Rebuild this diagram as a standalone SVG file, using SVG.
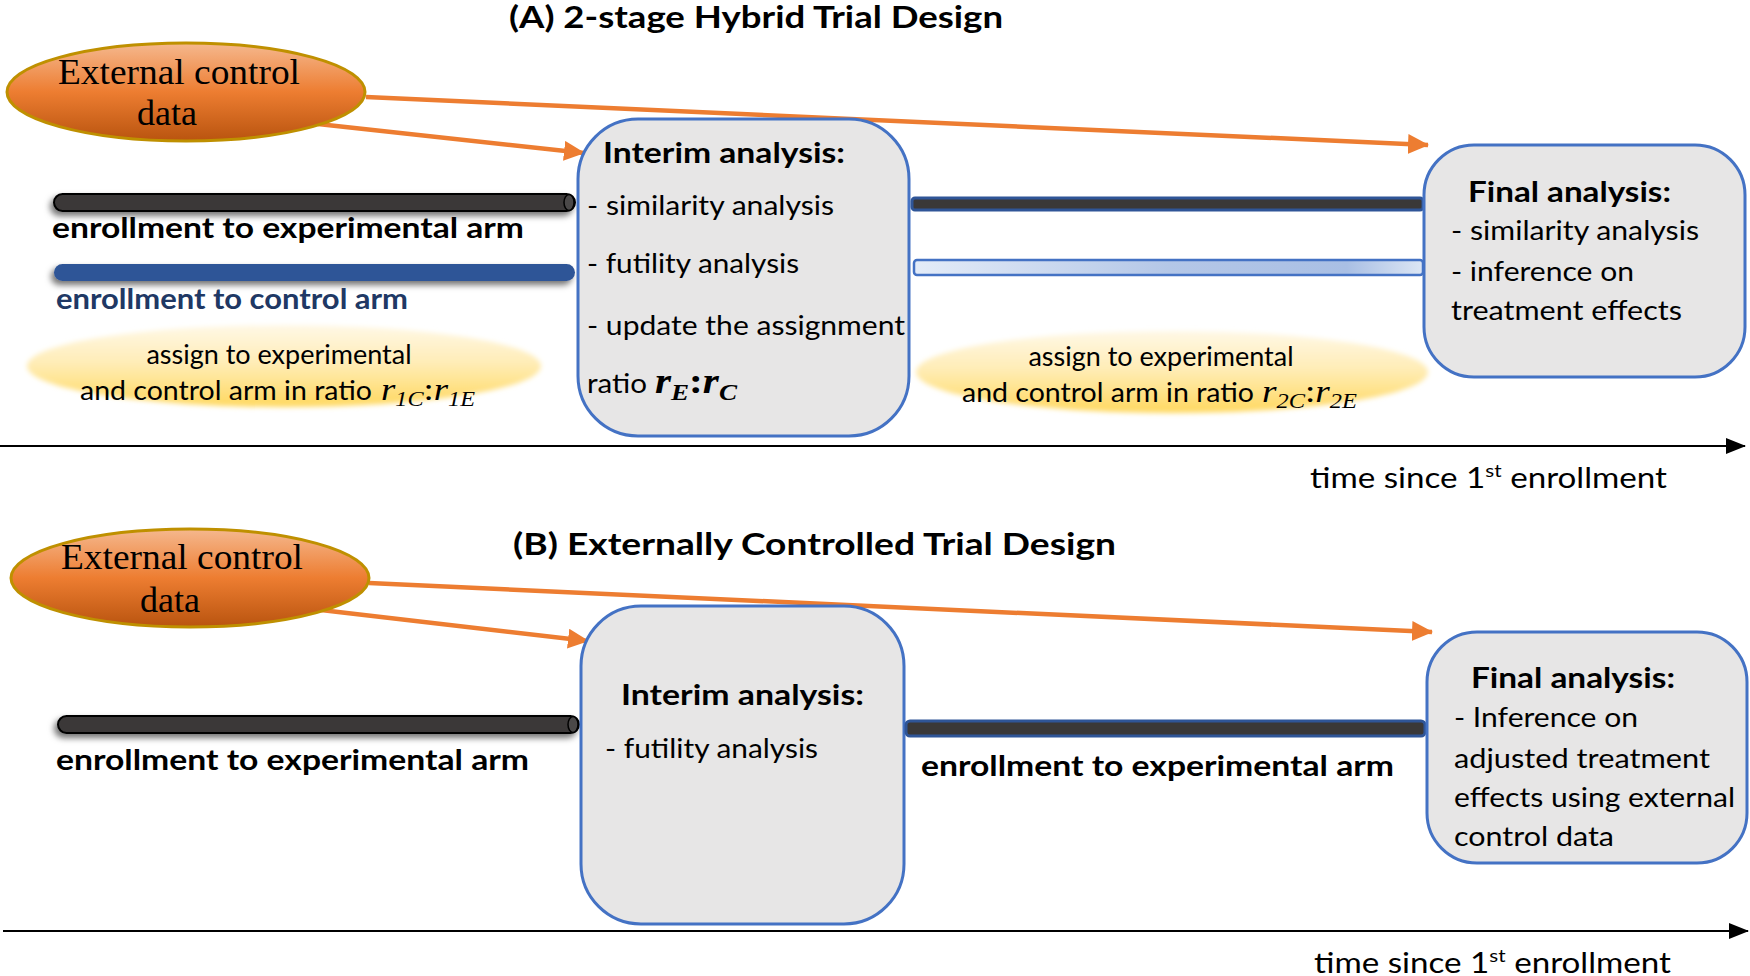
<svg xmlns="http://www.w3.org/2000/svg" width="1750" height="976" viewBox="0 0 1750 976">
<style>
.h{font-family:Lato,"Liberation Sans",sans-serif;font-weight:bold;fill:#000}
.t{font-family:Lato,"Liberation Sans",sans-serif;fill:#000}
.sf{font-family:"Liberation Serif",serif;fill:#000}
.m{font-family:"Liberation Serif",serif;font-style:italic;fill:#000}
.box{fill:#E7E6E6;stroke:#4472C4;stroke-width:3}
.ecd{fill:url(#og);stroke:#BF9000;stroke-width:3}
.yel{fill:url(#yg);filter:url(#soft)}
.arr{stroke:#ED7D31;stroke-width:4.5;fill:none;marker-end:url(#oa)}
.axis{stroke:#000;stroke-width:2;fill:none;marker-end:url(#ba)}
.bk{fill:#3A3838;stroke:#000;stroke-width:2;filter:url(#sh)}
.bl{fill:#2F5597;filter:url(#sh)}
.dk{fill:#3A3838;stroke:#2F5597;stroke-width:3}
.lb{fill:url(#lbg);stroke:#4472C4;stroke-width:2.5}
</style>
<defs>
<linearGradient id="og" x1="0" y1="0" x2="0" y2="1">
<stop offset="0" stop-color="#F5B88E"/><stop offset="0.5" stop-color="#ED7D31"/><stop offset="1" stop-color="#B9540F"/>
</linearGradient>
<linearGradient id="yg" x1="0" y1="0" x2="0" y2="1">
<stop offset="0" stop-color="#FFF8E6"/><stop offset="0.45" stop-color="#FFEDB8"/><stop offset="1" stop-color="#FFD85F"/>
</linearGradient>
<linearGradient id="lbg" x1="0" y1="0" x2="1" y2="0">
<stop offset="0" stop-color="#E4ECF8"/><stop offset="0.5" stop-color="#B4C7E7"/><stop offset="0.85" stop-color="#A9BFE4"/><stop offset="1" stop-color="#DCE6F4"/>
</linearGradient>
<filter id="soft" x="-5%" y="-20%" width="110%" height="140%"><feGaussianBlur stdDeviation="2.5"/></filter>
<filter id="sh" x="-5%" y="-100%" width="110%" height="300%"><feDropShadow dx="-3" dy="4" stdDeviation="3" flood-color="#000" flood-opacity="0.55"/></filter>
<marker id="oa" markerUnits="userSpaceOnUse" markerWidth="24" markerHeight="22" refX="20" refY="10" orient="auto"><path d="M0,0 L21,10 L0,20 Z" fill="#ED7D31"/></marker>
<marker id="ba" markerUnits="userSpaceOnUse" markerWidth="22" markerHeight="18" refX="19" refY="8" orient="auto"><path d="M0,0 L20,8 L0,16 Z" fill="#000"/></marker>
</defs>

<text class="h" x="509" y="28" font-size="30" textLength="494" lengthAdjust="spacingAndGlyphs">(A) 2-stage Hybrid Trial Design</text>
<text class="h" x="513" y="555" font-size="31" textLength="603" lengthAdjust="spacingAndGlyphs">(B) Externally Controlled Trial Design</text>

<g id="connectors">
<path class="arr" d="M366,97 L1428,145"/>
<path class="arr" d="M318,124 L584,153"/>
<path class="arr" d="M369,583 L1432,632"/>
<path class="arr" d="M321,610 L588,641"/>
<path class="axis" d="M0,446 L1745,446"/>
<path class="axis" d="M3,931 L1748,931"/>
</g>

<g id="ecdA">
<ellipse class="ecd" cx="186" cy="92" rx="179" ry="49"/>
<text class="sf" x="58" y="84" font-size="36" textLength="242" lengthAdjust="spacingAndGlyphs">External control</text>
<text class="sf" x="167" y="125" font-size="36" text-anchor="middle">data</text>
</g>

<g id="expArmA1">
<rect class="bk" x="54" y="194" width="521" height="17" rx="8.5"/>
<ellipse cx="569" cy="202.5" rx="5" ry="8" fill="#4a4848" stroke="#000" stroke-width="1.5"/>
<text class="h" x="52" y="238" font-size="29" textLength="472" lengthAdjust="spacingAndGlyphs">enrollment to experimental arm</text>
</g>
<g id="ctlArmA1">
<rect class="bl" x="54" y="264" width="521" height="17" rx="8.5"/>
<text class="h" x="56" y="309" font-size="29" style="fill:#203864" textLength="352" lengthAdjust="spacingAndGlyphs">enrollment to control arm</text>
</g>
<g id="assignA1">
<ellipse class="yel" cx="284" cy="366" rx="257" ry="41"/>
<text class="t" x="279" y="364" font-size="27" text-anchor="middle">assign to experimental</text>
<text class="t" x="80" y="400" font-size="27" textLength="292" lengthAdjust="spacingAndGlyphs">and control arm in ratio</text>
<text class="m" x="381" y="400" font-size="32" textLength="94" lengthAdjust="spacingAndGlyphs">r<tspan font-size="21" dy="6">1C</tspan><tspan dy="-6" font-style="normal">:</tspan>r<tspan font-size="21" dy="6">1E</tspan></text>
</g>

<g id="interimA">
<rect class="box" x="578" y="119" width="331" height="317" rx="60"/>
<text class="h" x="603" y="163" font-size="29" textLength="242" lengthAdjust="spacingAndGlyphs">Interim analysis:</text>
<text class="t" x="587" y="215" font-size="27" textLength="247" lengthAdjust="spacingAndGlyphs">- similarity analysis</text>
<text class="t" x="587" y="273" font-size="27" textLength="212" lengthAdjust="spacingAndGlyphs">- futility analysis</text>
<text class="t" x="587" y="335" font-size="27" textLength="318" lengthAdjust="spacingAndGlyphs">- update the assignment</text>
<text class="t" x="587" y="393" font-size="27" textLength="60" lengthAdjust="spacingAndGlyphs">ratio</text>
<text class="m" x="655" y="393" font-size="35" font-weight="bold" textLength="82" lengthAdjust="spacingAndGlyphs">r<tspan font-size="23" dy="7">E</tspan><tspan dy="-7" font-style="normal">:</tspan>r<tspan font-size="23" dy="7">C</tspan></text>
</g>

<g id="expArmA2">
<rect class="dk" x="912" y="198" width="511" height="12" rx="3"/>
</g>
<g id="ctlArmA2">
<rect class="lb" x="914" y="260" width="509" height="15" rx="3"/>
</g>
<g id="assignA2">
<ellipse class="yel" cx="1172" cy="372" rx="256" ry="41"/>
<text class="t" x="1161" y="366" font-size="27" text-anchor="middle">assign to experimental</text>
<text class="t" x="962" y="402" font-size="27" textLength="292" lengthAdjust="spacingAndGlyphs">and control arm in ratio</text>
<text class="m" x="1262" y="402" font-size="32" textLength="95" lengthAdjust="spacingAndGlyphs">r<tspan font-size="21" dy="6">2C</tspan><tspan dy="-6" font-style="normal">:</tspan>r<tspan font-size="21" dy="6">2E</tspan></text>
</g>

<g id="finalA">
<rect class="box" x="1424" y="145" width="321" height="232" rx="50"/>
<text class="h" x="1468" y="202" font-size="29" textLength="203" lengthAdjust="spacingAndGlyphs">Final analysis:</text>
<text class="t" x="1451" y="240" font-size="27" textLength="248" lengthAdjust="spacingAndGlyphs">- similarity analysis</text>
<text class="t" x="1451" y="281" font-size="27" textLength="183" lengthAdjust="spacingAndGlyphs">- inference on</text>
<text class="t" x="1451" y="320" font-size="27" textLength="231" lengthAdjust="spacingAndGlyphs">treatment effects</text>
</g>

<g id="timeA">
<text class="t" x="1310" y="488" font-size="29" textLength="357" lengthAdjust="spacingAndGlyphs">time since 1<tspan font-size="18" dy="-11">st</tspan><tspan dy="11"> enrollment</tspan></text>
</g>

<g id="ecdB">
<ellipse class="ecd" cx="190" cy="578" rx="179" ry="49"/>
<text class="sf" x="61" y="569" font-size="36" textLength="242" lengthAdjust="spacingAndGlyphs">External control</text>
<text class="sf" x="170" y="612" font-size="36" text-anchor="middle">data</text>
</g>

<g id="expArmB1">
<rect class="bk" x="58" y="716" width="521" height="17" rx="8.5"/>
<ellipse cx="573" cy="724.5" rx="5" ry="8" fill="#4a4848" stroke="#000" stroke-width="1.5"/>
<text class="h" x="56" y="770" font-size="29" textLength="473" lengthAdjust="spacingAndGlyphs">enrollment to experimental arm</text>
</g>

<g id="interimB">
<rect class="box" x="581" y="606" width="323" height="318" rx="60"/>
<text class="h" x="621" y="705" font-size="29" textLength="243" lengthAdjust="spacingAndGlyphs">Interim analysis:</text>
<text class="t" x="605" y="758" font-size="27" textLength="213" lengthAdjust="spacingAndGlyphs">- futility analysis</text>
</g>

<g id="expArmB2">
<rect class="dk" x="906" y="721" width="519" height="15" rx="4"/>
<text class="h" x="921" y="776" font-size="29" textLength="473" lengthAdjust="spacingAndGlyphs">enrollment to experimental arm</text>
</g>

<g id="finalB">
<rect class="box" x="1427" y="632" width="320" height="231" rx="50"/>
<text class="h" x="1471" y="688" font-size="29" textLength="204" lengthAdjust="spacingAndGlyphs">Final analysis:</text>
<text class="t" x="1454" y="727" font-size="27" textLength="184" lengthAdjust="spacingAndGlyphs">- Inference on</text>
<text class="t" x="1454" y="768" font-size="27" textLength="256" lengthAdjust="spacingAndGlyphs">adjusted treatment</text>
<text class="t" x="1454" y="807" font-size="27" textLength="281" lengthAdjust="spacingAndGlyphs">effects using external</text>
<text class="t" x="1454" y="846" font-size="27" textLength="160" lengthAdjust="spacingAndGlyphs">control data</text>
</g>

<g id="timeB">
<text class="t" x="1314" y="973" font-size="29" textLength="357" lengthAdjust="spacingAndGlyphs">time since 1<tspan font-size="18" dy="-11">st</tspan><tspan dy="11"> enrollment</tspan></text>
</g>
</svg>
